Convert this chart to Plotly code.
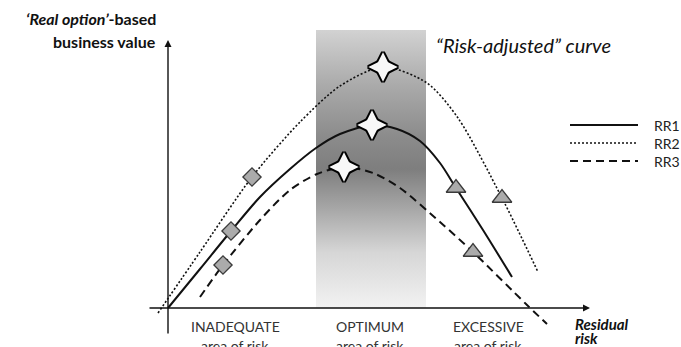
import plotly.graph_objects as go

# ---- data (abstract units: residual risk on x, business value on y) ----
rr1_x = [0.0, 3.2, 6.3, 9.2, 12.2, 14.8, 17.2, 20.4, 22.9, 25.2, 27.2, 28.8, 31.5, 34.4]
rr1_y = [0.0, 3.9, 7.7, 11.1, 13.9, 16.0, 17.4, 18.3, 17.9, 16.7, 14.5, 12.0, 7.8, 3.1]

rr2_x = [-1.0, 3.2, 8.4, 13.2, 17.2, 21.5, 25.9, 29.0, 33.4, 37.0]
rr2_y = [-0.5, 5.6, 13.1, 18.6, 22.2, 24.1, 22.5, 19.0, 11.0, 3.6]

rr3_x = [3.2, 5.5, 9.2, 12.2, 14.9, 17.6, 20.5, 23.2, 27.2, 30.5, 35.9, 37.9]
rr3_y = [1.1, 4.3, 8.8, 11.8, 13.4, 14.1, 13.5, 12.0, 8.6, 5.6, 0.3, -1.6]

diamond_x = [8.4, 6.3, 5.5]
diamond_y = [13.1, 7.7, 4.3]
star_x = [21.5, 20.4, 17.6]
star_y = [24.1, 18.3, 14.1]
triangle_x = [28.8, 33.4, 30.5]
triangle_y = [12.0, 11.0, 5.6]

band_x = [14.8, 25.8]
band_y = [0.0, 27.8]

series_names = ["RR1", "RR2", "RR3"]
zone_labels = ["INADEQUATE", "OPTIMUM", "EXCESSIVE"]
zone_centers = [6.7, 20.2, 32.0]

FONT = "Lato"
fig = go.Figure()

# optimum band with vertical gradient
fig.add_trace(go.Scatter(
    x=[band_x[0], band_x[1], band_x[1], band_x[0], band_x[0]],
    y=[band_y[0], band_y[0], band_y[1], band_y[1], band_y[0]],
    mode="lines", fill="toself", line=dict(width=0),
    fillgradient=dict(type="vertical", colorscale=[
        [0.0, "#f2f2f2"], [0.2, "#d6d6d6"], [0.36, "#a6a6a6"],
        [0.5, "#7e7e7e"], [0.62, "#8c8c8c"], [0.8, "#aaaaaa"], [1.0, "#d2d2d2"]]),
    hoverinfo="skip", showlegend=False))

dashes = ["solid", "2px,2px", "8px,5px"]
widths = [2, 1.6, 2]
for xs, ys, d, w, n in zip([rr1_x, rr2_x, rr3_x], [rr1_y, rr2_y, rr3_y], dashes, widths, series_names):
    fig.add_trace(go.Scatter(x=xs, y=ys, mode="lines", name=n,
                             line=dict(color="#111111", width=w, dash=d, shape="spline", smoothing=0.8),
                             showlegend=False))

fig.add_trace(go.Scatter(x=diamond_x, y=diamond_y, mode="markers", showlegend=False,
                         marker=dict(symbol="diamond", size=14, color="#ababab",
                                     line=dict(color="#3a3a3a", width=1.3))))
fig.add_trace(go.Scatter(x=triangle_x, y=triangle_y, mode="markers", showlegend=False,
                         marker=dict(symbol="triangle-up", size=17, color="#ababab",
                                     line=dict(color="#3a3a3a", width=1.3))))
# four-point stars: outlined tall + wide diamonds, then white fill covers the inner strokes
STAR = 21
for sym in ["diamond-tall", "diamond-wide"]:
    fig.add_trace(go.Scatter(x=star_x, y=star_y, mode="markers", showlegend=False,
                             marker=dict(symbol=sym, size=STAR, color="#ffffff",
                                         line=dict(color="#000000", width=4))))
for sym in ["diamond-tall", "diamond-wide"]:
    fig.add_trace(go.Scatter(x=star_x, y=star_y, mode="markers", showlegend=False,
                             marker=dict(symbol=sym, size=STAR, color="#f8f8f8",
                                         line=dict(width=0))))

annotations = []
# axes arrows
annotations.append(dict(x=0, y=26.8, ax=0, ay=-2.7, xref="x", yref="y", axref="x", ayref="y",
                        showarrow=True, arrowhead=2, arrowsize=1, arrowwidth=1.4,
                        arrowcolor="#111111", text=""))
annotations.append(dict(x=42.2, y=0, ax=-2.0, ay=0, xref="x", yref="y", axref="x", ayref="y",
                        showarrow=True, arrowhead=2, arrowsize=1, arrowwidth=1.4,
                        arrowcolor="#111111", text=""))

# y-axis title
annotations.append(dict(x=-1.0, y=29.0, xref="x", yref="y", xanchor="right", yanchor="middle",
                        text="<b><i>\u2018Real option\u2019</i>-based</b>", showarrow=False,
                        font=dict(family=FONT, size=16, color="#111111")))
annotations.append(dict(x=-1.0, y=26.7, xref="x", yref="y", xanchor="right", yanchor="middle",
                        text="<b>business value</b>", showarrow=False,
                        font=dict(family=FONT, size=16, color="#111111")))
# curve title
annotations.append(dict(x=26.6, y=26.3, xref="x", yref="y", xanchor="left", yanchor="middle",
                        text="<i>\u201cRisk-adjusted\u201d curve</i>", showarrow=False,
                        font=dict(family=FONT, size=20, color="#111111")))
# x-axis title
annotations.append(dict(x=40.5, y=-1.55, xref="x", yref="y", xanchor="left", yanchor="middle",
                        text="<b><i>Residual</i></b>", showarrow=False,
                        font=dict(family=FONT, size=15, color="#111111")))
annotations.append(dict(x=40.5, y=-3.0, xref="x", yref="y", xanchor="left", yanchor="middle",
                        text="<b><i>risk</i></b>", showarrow=False,
                        font=dict(family=FONT, size=15, color="#111111")))
# zone labels
for lab, cx in zip(zone_labels, zone_centers):
    annotations.append(dict(x=cx, y=-1.8, xref="x", yref="y", xanchor="center", yanchor="middle",
                            text=lab, showarrow=False,
                            font=dict(family=FONT, size=14, color="#333333")))
    annotations.append(dict(x=cx, y=-3.75, xref="x", yref="y", xanchor="center", yanchor="middle",
                            text="area of risk", showarrow=False,
                            font=dict(family=FONT, size=14, color="#333333")))

# manual legend
shapes = []
leg_y = [18.3, 16.5, 14.7]
for n, d, w, ly in zip(series_names, dashes, widths, leg_y):
    shapes.append(dict(type="line", xref="x", yref="y", x0=40.2, x1=47.0, y0=ly, y1=ly,
                       line=dict(color="#111111", width=w, dash=d)))
    annotations.append(dict(x=48.4, y=ly, xref="x", yref="y", xanchor="left", yanchor="middle",
                            text=n, showarrow=False,
                            font=dict(family=FONT, size=14, color="#222222")))

fig.update_layout(
    width=681, height=347,
    margin=dict(l=0, r=0, t=0, b=0),
    paper_bgcolor="white", plot_bgcolor="white",
    xaxis=dict(range=[-16.8, 51.3], visible=False, fixedrange=True),
    yaxis=dict(range=[-3.9, 30.8], visible=False, fixedrange=True),
    annotations=annotations, shapes=shapes,
    showlegend=False,
)

fig.write_html("out.html", config={"displayModeBar": False},
               post_script="document.body.style.margin='0';document.body.style.overflow='hidden';")
